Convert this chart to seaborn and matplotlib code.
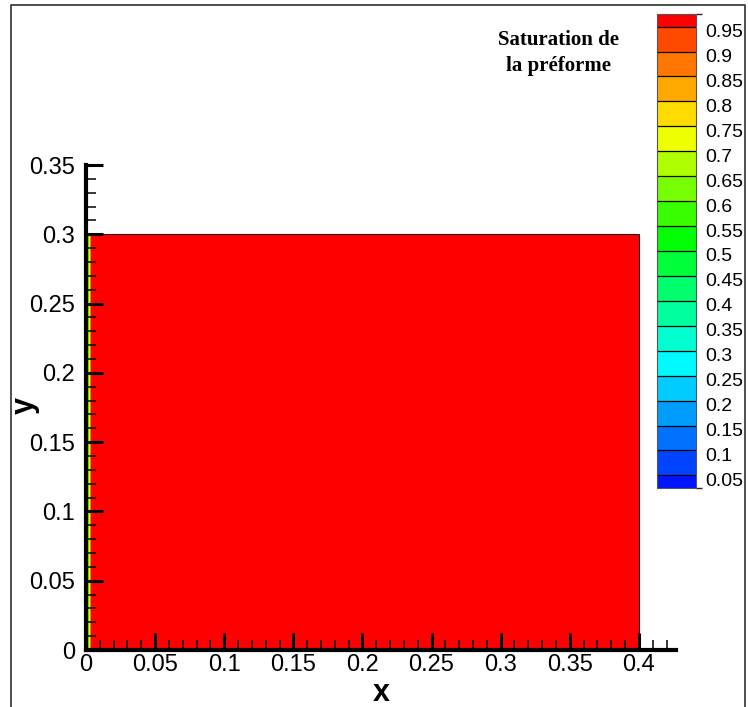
import numpy as np
import matplotlib
matplotlib.use("Agg")
import matplotlib.pyplot as plt
import seaborn as sns
from matplotlib.colors import ListedColormap, BoundaryNorm, LinearSegmentedColormap
from matplotlib.cm import ScalarMappable
from matplotlib.patches import Rectangle
from matplotlib.ticker import MultipleLocator, FuncFormatter
from matplotlib.transforms import ScaledTranslation

# Saturation profile across x (uniform in y)
x_nodes = [0.0, 0.0018, 0.0028, 0.0036, 0.4]
y_nodes = [0.0, 0.3]
saturation = [0.52, 0.58, 0.8, 0.97, 1.0]

# Contour levels and legend labels
levels = [0.0, 0.05, 0.1, 0.15, 0.2, 0.25, 0.3, 0.35, 0.4, 0.45, 0.5,
          0.55, 0.6, 0.65, 0.7, 0.75, 0.8, 0.85, 0.9, 0.95, 1.0]
legend_ticks = [0.05, 0.1, 0.15, 0.2, 0.25, 0.3, 0.35, 0.4, 0.45, 0.5,
                0.55, 0.6, 0.65, 0.7, 0.75, 0.8, 0.85, 0.9, 0.95]
x_ticks = [0, 0.05, 0.1, 0.15, 0.2, 0.25, 0.3, 0.35, 0.4]
y_ticks = [0, 0.05, 0.1, 0.15, 0.2, 0.25, 0.3, 0.35]

sns.set_theme(style="white")
plt.rcParams['font.family'] = ['Liberation Sans', 'DejaVu Sans']

# Tecplot-like small rainbow, one colour per band
rainbow = LinearSegmentedColormap.from_list(
    "tec", [(0.0, "#0000ff"), (0.28, "#00ffff"), (0.53, "#00ff00"),
            (0.74, "#ffff00"), (1.0, "#ff0000")])
band_colors = [rainbow((i + 0.5) / 20) for i in range(20)]
band_colors[-1] = (1.0, 0.0, 0.0, 1.0)
cmap = ListedColormap(band_colors)
norm = BoundaryNorm(levels, cmap.N)

fig = plt.figure(figsize=(7.48, 7.07), dpi=100)
ax = fig.add_axes([0.115, 0.0806, 0.789, 0.686])
ax.set_axisbelow(False)

X, Y = np.meshgrid(x_nodes, y_nodes)
Z = np.tile(saturation, (len(y_nodes), 1))
ax.contourf(X, Y, Z, levels=levels, cmap=cmap, norm=norm, zorder=1)
ax.add_patch(Rectangle((x_nodes[0], y_nodes[0]), x_nodes[-1] - x_nodes[0],
                       y_nodes[-1] - y_nodes[0], fill=False,
                       edgecolor="#202020", lw=0.8, zorder=2))

ax.set_xlim(0, 0.427)
ax.set_ylim(0, 0.35)
for s in ["top", "right"]:
    ax.spines[s].set_visible(False)
for s in ["left", "bottom"]:
    ax.spines[s].set_linewidth(3)
    ax.spines[s].set_color("black")
    ax.spines[s].set_zorder(5)

fmt = FuncFormatter(lambda v, p: "{:g}".format(round(v, 3)))
ax.set_xticks(x_ticks)
ax.set_yticks(y_ticks)
ax.xaxis.set_major_formatter(fmt)
ax.yaxis.set_major_formatter(fmt)
ax.xaxis.set_minor_locator(MultipleLocator(0.01))
ax.yaxis.set_minor_locator(MultipleLocator(0.01))
ax.tick_params(which="major", direction="in", length=12, width=2.2,
               color="black", labelsize=17, labelcolor="black")
ax.tick_params(which="minor", direction="in", length=7, width=1.1,
               color="black")
ax.tick_params(axis="x", which="both", bottom=True, top=False, pad=3)
ax.tick_params(axis="y", which="both", left=True, right=False, pad=8)
ax.set_xlabel("x", fontsize=22, fontweight="bold", color="black")
ax.set_ylabel("y", fontsize=22, fontweight="bold", color="black")
ax.xaxis.set_label_coords(0.5, -0.089)
ax.yaxis.set_label_coords(-0.104, 0.505)
for lab in (ax.xaxis.label, ax.yaxis.label):
    lab.set_va("center")
    lab.set_ha("center")
ax.grid(False)

# Legend (colour bar)
cax = fig.add_axes([0.878, 0.31, 0.052, 0.670])
cb_bounds = [0.025] + legend_ticks + [0.975]
sm = ScalarMappable(norm=BoundaryNorm(cb_bounds, cmap.N), cmap=cmap)
cb = fig.colorbar(sm, cax=cax, boundaries=cb_bounds, spacing="proportional",
                  drawedges=True)
cb.set_ticks(legend_ticks)
cb.set_ticklabels(["{:g}".format(v) for v in legend_ticks])
cb.ax.tick_params(length=0, labelsize=14, pad=7, labelcolor="black")
shift = ScaledTranslation(0, -4 / 100, fig.dpi_scale_trans)
for lab in cb.ax.get_yticklabels():
    lab.set_transform(lab.get_transform() + shift)
cb.outline.set_edgecolor("#555555")
cb.outline.set_linewidth(0.8)
cb.dividers.set_color("black")
cb.dividers.set_linewidth(0.9)

fig.text(0.746, 0.925, "Saturation de\nla préforme", ha="center", va="center",
         fontsize=15, fontweight="bold", family="Liberation Serif",
         linespacing=1.45, color="black")

# Outer frame (top, left, right)
fig.add_artist(plt.Line2D([0.0147, 0.0147, 0.996, 0.996], [0.0, 0.993, 0.993, 0.0],
                          transform=fig.transFigure, color="#303030", lw=1.2))

fig.savefig("out.png", dpi=100)
